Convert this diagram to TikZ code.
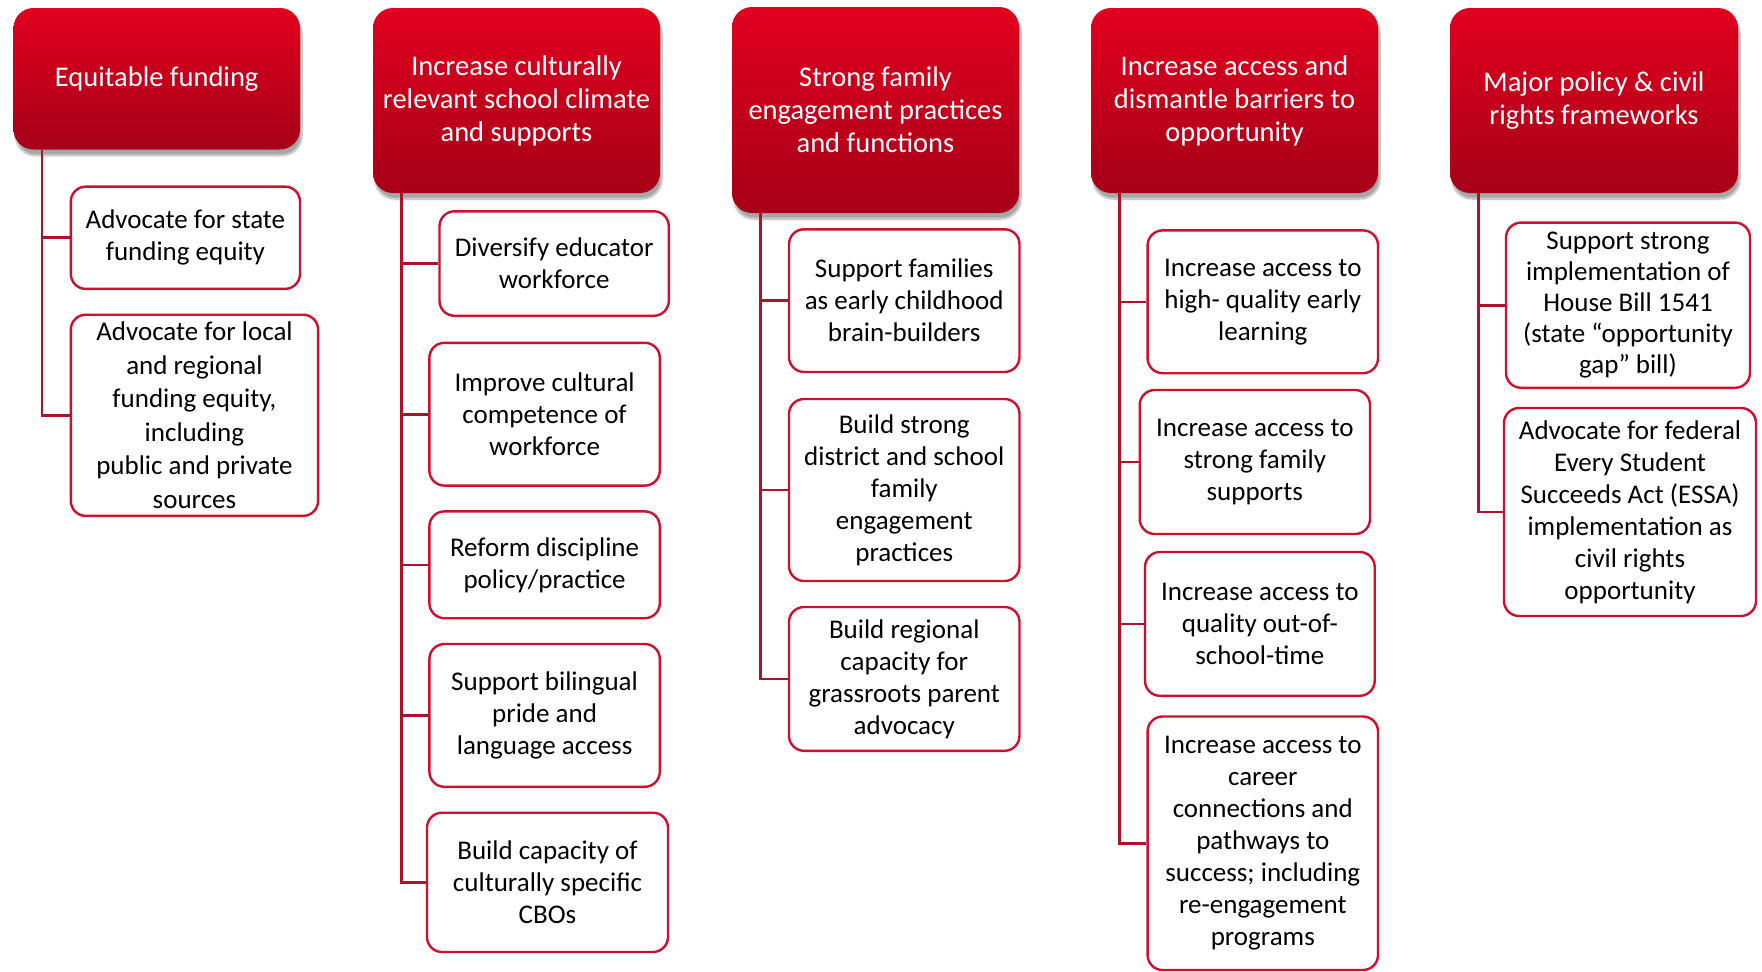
\documentclass[tikz,border=0pt]{standalone}
\usepackage{fontspec}
\setmainfont{Carlito}
\usetikzlibrary{shadows.blur}
\definecolor{boxred}{RGB}{204,16,46}
\definecolor{linered}{RGB}{172,18,42}
\definecolor{headtop}{RGB}{226,0,30}
\definecolor{headbot}{RGB}{166,0,24}
\tikzset{
  head/.style={rounded corners=20pt, top color=headtop, bottom color=headbot,
    draw=none, text=white, inner sep=0pt, align=center,
    font=\fontsize{28.5}{33}\selectfont,
    blur shadow={shadow blur steps=10, shadow xshift=2pt, shadow yshift=-6pt, shadow opacity=35}},
  item/.style={rounded corners=15pt, draw=boxred, line width=2.4pt, fill=white,
    text=black, inner sep=0pt, align=center, font=\fontsize{27}{32}\selectfont},
  link/.style={draw=linered, line width=2.6pt}
}
\begin{document}
\begin{tikzpicture}[x=1pt,y=-1pt]
\useasboundingbox (0,0) rectangle (1762,972);
% headers
\node[head, minimum width=286.5pt, minimum height=141.5pt] (h1) at (156.75,78.75) {Equitable funding};
\node[head, minimum width=287pt, minimum height=185pt] (h2) at (516.5,100.5) {Increase culturally\\relevant school climate\\and supports};
\node[head, minimum width=287pt, minimum height=206pt] (h3) at (875.5,110) {Strong family\\engagement practices\\and functions};
\node[head, minimum width=287pt, minimum height=185pt] (h4) at (1234.5,100.5) {Increase access and\\dismantle barriers to\\opportunity};
\node[head, minimum width=288pt, minimum height=185pt] (h5) at (1594,100.5) {Major policy \& civil\\rights frameworks};
% column 1
\node[item, minimum width=229.2pt, minimum height=102.3pt] (a1) at (185.4,237.75) {Advocate for state\\funding equity};
\node[item, minimum width=247.3pt, minimum height=201.2pt, font=\fontsize{27}{33.5}\selectfont] (a2) at (194.45,415.3) {Advocate for local\\and regional\\funding equity,\\including\\public and private\\sources};
% column 2
\node[item, minimum width=229.3pt, minimum height=104.5pt] (b1) at (554.15,263.55) {Diversify educator\\workforce};
\node[item, minimum width=230.4pt, minimum height=142.8pt] (b2) at (544.6,414.2) {Improve cultural\\competence of\\workforce};
\node[item, minimum width=230.4pt, minimum height=106.8pt] (b3) at (544.6,564.8) {Reform discipline\\policy/practice};
\node[item, minimum width=230.4pt, minimum height=142.8pt] (b4) at (544.6,715.4) {Support bilingual\\pride and\\language access};
\node[item, minimum width=241pt, minimum height=139.3pt] (b5) at (547.5,882.35) {Build capacity of\\culturally specific\\CBOs};
% column 3
\node[item, minimum width=230.5pt, minimum height=142.7pt] (c1) at (904.25,300.65) {Support families\\as early childhood\\brain-builders};
\node[item, minimum width=230.5pt, minimum height=182pt] (c2) at (904.25,490) {Build strong\\district and school\\family\\engagement\\practices};
\node[item, minimum width=230.5pt, minimum height=143.8pt] (c3) at (904.25,678.9) {Build regional\\capacity for\\grassroots parent\\advocacy};
% column 4
\node[item, minimum width=230.4pt, minimum height=142.8pt] (d1) at (1262.8,301.8) {Increase access to\\high- quality early\\learning};
\node[item, minimum width=230.3pt, minimum height=144pt] (d2) at (1254.85,462) {Increase access to\\strong family\\supports};
\node[item, minimum width=229.7pt, minimum height=143.8pt] (d3) at (1259.85,623.9) {Increase access to\\quality out-of-\\school-time};
\node[item, minimum width=230.4pt, minimum height=253.5pt] (d4) at (1262.8,843.25) {Increase access to\\career\\connections and\\pathways to\\success; including\\re-engagement\\programs};
% column 5
\node[item, minimum width=244pt, minimum height=165.2pt, font=\fontsize{27}{31}\selectfont] (e1) at (1628,305.2) {Support strong\\implementation of\\House Bill 1541\\(state “opportunity\\gap” bill)};
\node[item, minimum width=252pt, minimum height=208pt] (e2) at (1630,512) {Advocate for federal\\Every Student\\Succeeds Act (ESSA)\\implementation as\\civil rights\\opportunity};
% connectors
\foreach \h/\c in {h1/a1,h1/a2,h2/b1,h2/b2,h2/b3,h2/b4,h2/b5,h3/c1,h3/c2,h3/c3,h4/d1,h4/d2,h4/d3,h4/d4,h5/e1,h5/e2}
  \draw[link] ([xshift=28.5pt]\h.south west) |- (\c.west);
\end{tikzpicture}
\end{document}
